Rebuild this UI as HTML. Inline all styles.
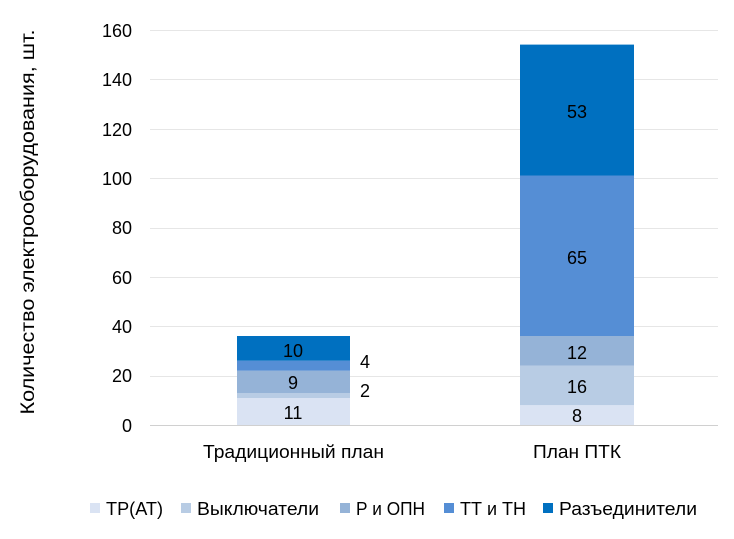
<!DOCTYPE html>
<html><head><meta charset="utf-8"><style>body{margin:0;background:#fff}svg{display:block}text{font-family:"Liberation Sans Narrow","Liberation Sans",sans-serif;fill:#000}</style></head><body>
<svg width="734" height="539" viewBox="0 0 734 539">
<g stroke="#e6e6e6" stroke-width="1">
<line x1="150" x2="718" y1="30.5" y2="30.5"/><line x1="150" x2="718" y1="79.5" y2="79.5"/><line x1="150" x2="718" y1="129.5" y2="129.5"/><line x1="150" x2="718" y1="178.5" y2="178.5"/><line x1="150" x2="718" y1="228.5" y2="228.5"/><line x1="150" x2="718" y1="277.5" y2="277.5"/><line x1="150" x2="718" y1="326.5" y2="326.5"/><line x1="150" x2="718" y1="376.5" y2="376.5"/>
</g>
<line x1="150" x2="718" y1="425.5" y2="425.5" stroke="#d0d0d0"/>
<g font-size="18" text-anchor="end">
<text x="132" y="37">160</text><text x="132" y="86">140</text><text x="132" y="136">120</text><text x="132" y="185">100</text><text x="132" y="234">80</text><text x="132" y="284">60</text><text x="132" y="333">40</text><text x="132" y="382">20</text><text x="132" y="432">0</text>
</g>
<text transform="translate(34,222) rotate(-90)" font-size="19" text-anchor="middle" textLength="385" lengthAdjust="spacingAndGlyphs">Количество электрооборудования, шт.</text>
<rect x="237" y="398" width="113" height="27" fill="#dae3f3"/>
<rect x="237" y="393" width="113" height="5" fill="#b8cce4"/>
<rect x="237" y="370.6" width="113" height="22.4" fill="#95b3d7"/>
<rect x="237" y="360.7" width="113" height="9.9" fill="#558ed5"/>
<rect x="237" y="336" width="113" height="24.7" fill="#0070c0"/>
<rect x="520" y="405.2" width="114" height="19.8" fill="#dae3f3"/>
<rect x="520" y="365.7" width="114" height="39.5" fill="#b8cce4"/>
<rect x="520" y="336" width="114" height="29.7" fill="#95b3d7"/>
<rect x="520" y="175.5" width="114" height="160.5" fill="#558ed5"/>
<rect x="520" y="44.6" width="114" height="130.9" fill="#0070c0"/>
<g font-size="18" text-anchor="middle">
<text x="293" y="419">11</text><text x="293" y="389">9</text><text x="293" y="357">10</text>
<text x="365" y="397">2</text><text x="365" y="368">4</text>
<text x="577" y="422">8</text><text x="577" y="393">16</text><text x="577" y="359">12</text><text x="577" y="264">65</text><text x="577" y="118">53</text>
</g>
<g font-size="18">
<text x="203" y="458" textLength="181" lengthAdjust="spacingAndGlyphs">Традиционный план</text><text x="533" y="458" textLength="88" lengthAdjust="spacingAndGlyphs">План ПТК</text>
<rect x="90" y="503" width="10" height="10" fill="#dae3f3"/><text x="106" y="515" textLength="57" lengthAdjust="spacingAndGlyphs">ТР(АТ)</text>
<rect x="181" y="503" width="10" height="10" fill="#b8cce4"/><text x="197" y="515" textLength="122" lengthAdjust="spacingAndGlyphs">Выключатели</text>
<rect x="340" y="503" width="10" height="10" fill="#95b3d7"/><text x="356" y="515" textLength="69" lengthAdjust="spacingAndGlyphs">Р и ОПН</text>
<rect x="444" y="503" width="10" height="10" fill="#558ed5"/><text x="460" y="515" textLength="66" lengthAdjust="spacingAndGlyphs">ТТ и ТН</text>
<rect x="543" y="503" width="10" height="10" fill="#0070c0"/><text x="559" y="515" textLength="138" lengthAdjust="spacingAndGlyphs">Разъединители</text>
</g>
</svg>
</body></html>
